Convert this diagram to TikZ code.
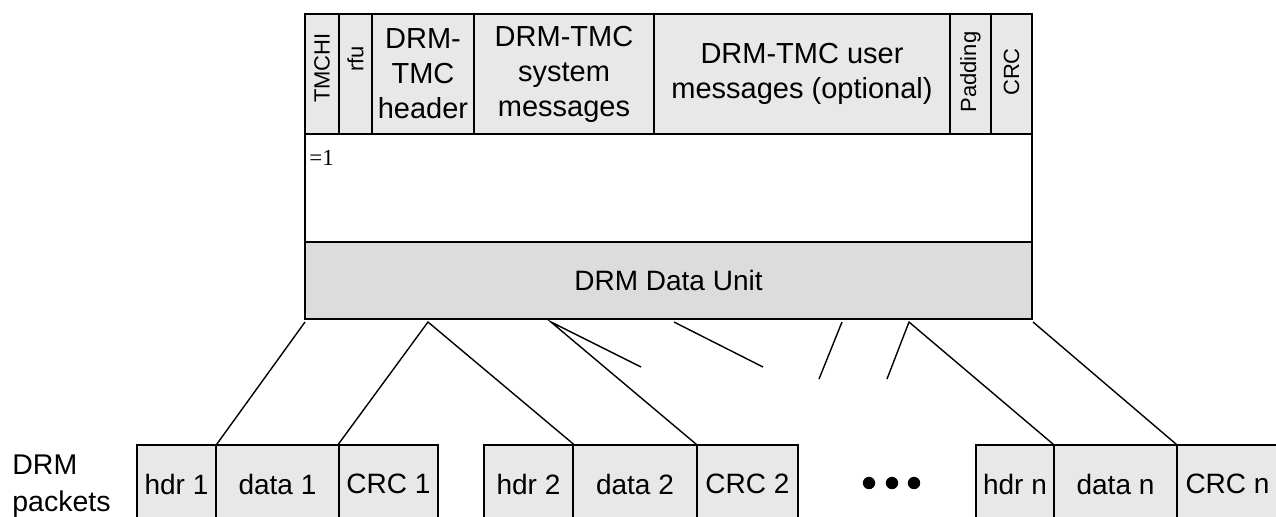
\documentclass[tikz,border=0pt]{standalone}
\usepackage{fontspec}
\setmainfont{Liberation Sans}
\newfontfamily\timesfont{Liberation Serif}
\definecolor{boxgray}{HTML}{E8E8E8}
\definecolor{unitgray}{HTML}{DCDCDC}
\tikzset{
  base/.style={draw, line width=0.7pt, inner sep=0pt, font=\fontsize{14}{17.5}\selectfont},
  field/.style={base, fill=boxgray, minimum height=60pt, align=center, font=\fontsize{14.5}{17.5}\selectfont},
  vtext/.style={rotate=90, inner sep=0pt, font=\fontsize{11}{12}\selectfont},
  pkt/.style={base, fill=boxgray, minimum height=39pt},
  dotnode/.style={circle, fill=black, inner sep=0pt, minimum size=6.2pt},
  link/.style={line width=0.7pt},
}
\begin{document}
\begin{tikzpicture}[x=0.5pt,y=-0.5pt]
\path[use as bounding box, clip] (0,0) rectangle (1276,516);
% top fields
\node[field, minimum width=17pt] (tmchi) at (322,74) {};
\node[vtext] (tmchiT) at (322,68) {TMCHI};
\node[field, minimum width=16.5pt] (rfu) at (355.5,74) {};
\node[vtext] (rfuT) at (355.5,59) {rfu};
\node[field, minimum width=51pt] (hdr) at (423,74) {DRM-\\TMC\\header};
\node[field, minimum width=90pt] (sys) at (564,74) {DRM-TMC\\system\\messages};
\node[field, minimum width=148pt] (usr) at (802,74) {DRM-TMC user\\messages (optional)};
\node[field, minimum width=20.5pt] (pad) at (970.5,74) {};
\node[vtext] (padT) at (970.5,72) {Padding};
\node[field, minimum width=20.5pt] (crc) at (1011.5,74) {};
\node[vtext] (crcT) at (1011.5,72) {CRC};
% body and data unit
\node[base, fill=white, minimum width=363.5pt, minimum height=54pt] (body) at (668.5,188) {};
\node[anchor=west, inner sep=0pt, font=\timesfont\fontsize{11.5}{12}\selectfont] (eq) at (309,158) {=1};
\node[base, fill=unitgray, minimum width=363.5pt, minimum height=38.5pt] (du) at (668.5,280.5) {DRM Data Unit};
% packets
\node[anchor=west, inner sep=0pt, align=left, font=\fontsize{14.25}{18.5}\selectfont] (lbl) at (12,486) {DRM\\packets};
\node[pkt, minimum width=39.5pt] (hdr1) at (176.5,484) {hdr 1};
\node[pkt, minimum width=61.5pt] (data1) at (277.5,484) {data 1};
\node[pkt, minimum width=49.5pt] (crc1) at (388.5,484) {CRC 1};
\node[pkt, minimum width=44.5pt] (hdr2) at (528.5,484) {hdr 2};
\node[pkt, minimum width=62pt] (data2) at (635,484) {data 2};
\node[pkt, minimum width=50.5pt] (crc2) at (747.5,484) {CRC 2};
\node[dotnode] (d1) at (869,483) {};
\node[dotnode] (d2) at (892,483) {};
\node[dotnode] (d3) at (914,483) {};
\node[pkt, minimum width=39pt] (hdrn) at (1015,484) {hdr n};
\node[pkt, minimum width=61.5pt] (datan) at (1115.5,484) {data n};
\node[pkt, minimum width=50.5pt] (crcn) at (1227.5,484) {CRC n};
% connectors
\coordinate (s1) at (305,322);
\coordinate (s2) at (428,322);
\coordinate (s3) at (551,322);
\coordinate (s4) at (674,322);
\coordinate (s5) at (842,322);
\coordinate (s6) at (909,322);
\coordinate (s7) at (1033,322);
\coordinate (e3) at (641,367);
\coordinate (e4) at (763,367);
\coordinate (e5) at (819,379);
\coordinate (e6) at (887,379);
\draw[link] (s1) -- (hdr1.north east);
\draw[link] (crc1.north west) -- (s2) -- (hdr2.north east);
\draw[link] (e3) -- (s3) -- (crc2.north west);
\draw[link] (s4) -- (e4);
\draw[link] (s5) -- (e5);
\draw[link] (e6) -- (s6) -- (datan.north west);
\draw[link] (s7) -- (crcn.north west);
\end{tikzpicture}
\end{document}
